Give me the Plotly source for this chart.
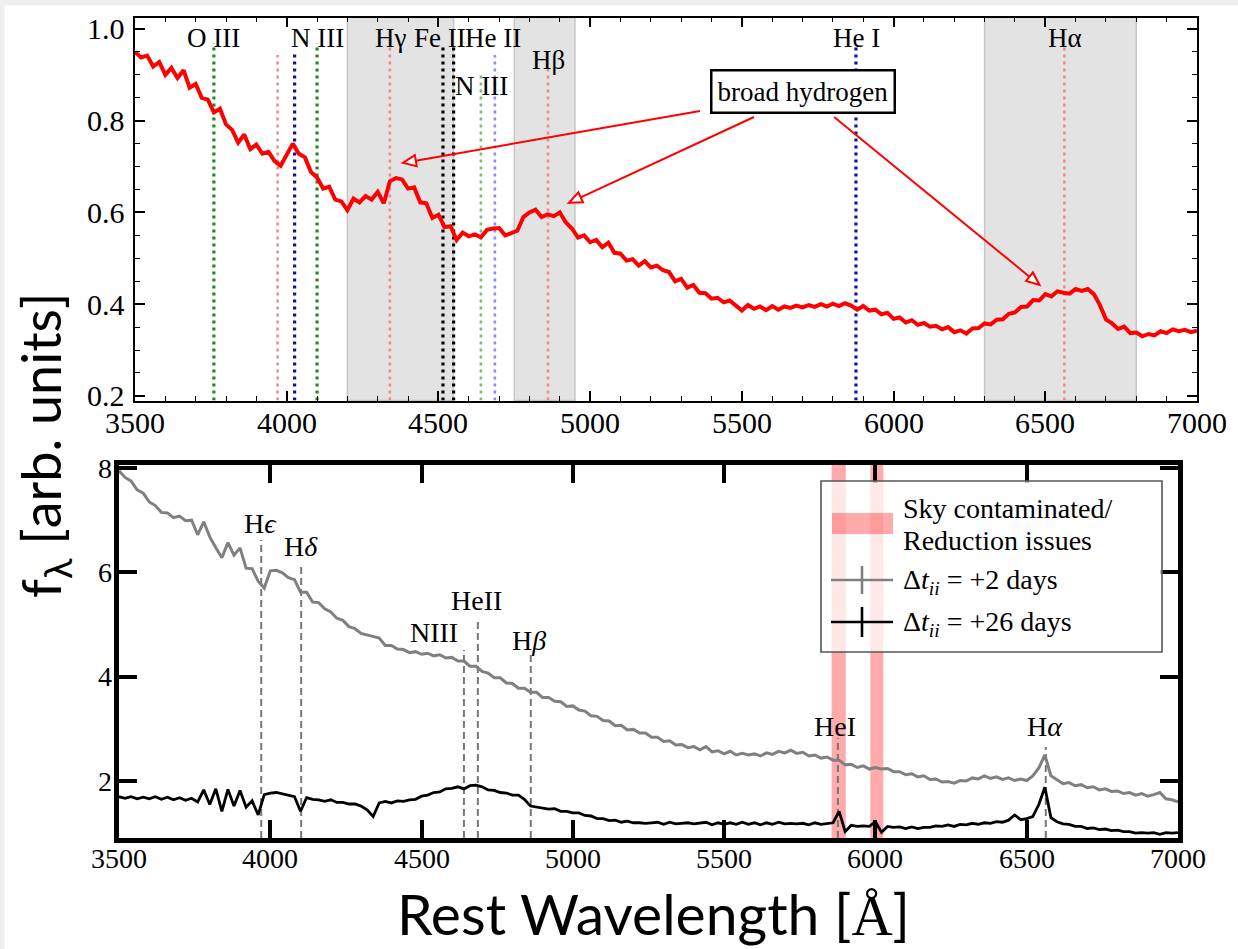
import plotly.graph_objects as go

W, H = 1238, 949

# ---------------- data ----------------
# common wavelength grid [Angstrom], 20 A sampling
wavelength = list(range(3500, 7001, 20))

# upper panel: normalised spectrum (arb. units)
flux_upper = [
    0.950, 0.938, 0.942, 0.918, 0.928, 0.900, 0.915, 0.893, 0.910, 0.872,
    0.880, 0.850, 0.846, 0.818, 0.826, 0.792, 0.780, 0.752, 0.770, 0.738,
    0.748, 0.728, 0.732, 0.712, 0.702, 0.726, 0.750, 0.728, 0.720, 0.688,
    0.676, 0.652, 0.656, 0.628, 0.624, 0.605, 0.630, 0.622, 0.636, 0.628,
    0.645, 0.620, 0.668, 0.675, 0.672, 0.652, 0.655, 0.622, 0.620, 0.588,
    0.595, 0.568, 0.570, 0.540, 0.556, 0.548, 0.552, 0.546, 0.562, 0.565,
    0.566, 0.550, 0.556, 0.560, 0.590, 0.600, 0.606, 0.590, 0.596, 0.592,
    0.600, 0.578, 0.565, 0.545, 0.550, 0.535, 0.540, 0.524, 0.534, 0.512,
    0.510, 0.495, 0.498, 0.484, 0.494, 0.480, 0.484, 0.474, 0.470, 0.450,
    0.455, 0.436, 0.442, 0.425, 0.424, 0.412, 0.414, 0.404, 0.408, 0.396,
    0.386, 0.398, 0.390, 0.395, 0.387, 0.396, 0.388, 0.395, 0.392, 0.397,
    0.393, 0.398, 0.394, 0.400, 0.395, 0.401, 0.396, 0.402, 0.397, 0.388,
    0.396, 0.386, 0.388, 0.378, 0.381, 0.368, 0.371, 0.360, 0.365, 0.355,
    0.359, 0.351, 0.353, 0.345, 0.350, 0.339, 0.343, 0.336, 0.347, 0.348,
    0.358, 0.356, 0.366, 0.367, 0.379, 0.382, 0.394, 0.395, 0.409, 0.408,
    0.422, 0.417, 0.428, 0.425, 0.423, 0.433, 0.429, 0.433, 0.422, 0.398,
    0.367, 0.358, 0.346, 0.351, 0.337, 0.338, 0.330, 0.335, 0.332, 0.341,
    0.337, 0.345, 0.341, 0.344, 0.339, 0.342,
]

# lower panel: +2 days spectrum
flux_plus2 = [
    7.95, 7.82, 7.75, 7.58, 7.52, 7.35, 7.28, 7.15, 7.14, 7.05,
    7.08, 6.99, 7.00, 6.72, 6.97, 6.68, 6.47, 6.28, 6.57, 6.33,
    6.47, 6.08, 6.07, 5.83, 5.70, 6.03, 6.04, 5.99, 5.90, 5.86,
    5.62, 5.62, 5.43, 5.42, 5.30, 5.24, 5.12, 5.08, 4.96, 4.92,
    4.83, 4.80, 4.77, 4.74, 4.60, 4.60, 4.53, 4.52, 4.46, 4.48,
    4.43, 4.45, 4.40, 4.42, 4.36, 4.37, 4.30, 4.30, 4.20, 4.20,
    4.10, 4.07, 3.98, 3.98, 3.88, 3.87, 3.78, 3.78, 3.70, 3.70,
    3.60, 3.60, 3.53, 3.52, 3.43, 3.44, 3.36, 3.34, 3.25, 3.24,
    3.16, 3.15, 3.06, 3.07, 2.98, 2.99, 2.92, 2.92, 2.84, 2.84,
    2.76, 2.77, 2.69, 2.70, 2.64, 2.66, 2.60, 2.66, 2.56, 2.58,
    2.52, 2.57, 2.50, 2.53, 2.50, 2.52, 2.48, 2.54, 2.51, 2.57,
    2.54, 2.59, 2.53, 2.55, 2.48, 2.50, 2.44, 2.46, 2.40, 2.40,
    2.31, 2.32, 2.26, 2.29, 2.23, 2.26, 2.23, 2.24, 2.18, 2.18,
    2.12, 2.14, 2.08, 2.10, 2.03, 2.04, 1.98, 1.99, 1.96, 2.01,
    2.00, 2.06, 2.04, 2.10, 2.05, 2.08, 2.03, 2.06, 2.01, 2.04,
    2.01, 2.10, 2.25, 2.50, 2.10, 2.02, 1.95, 1.97, 1.91, 1.93,
    1.87, 1.89, 1.83, 1.85, 1.80, 1.81, 1.76, 1.78, 1.73, 1.76,
    1.71, 1.74, 1.78, 1.66, 1.64, 1.60,
]

# lower panel: +26 days spectrum
flux_plus26 = [
    1.70, 1.67, 1.70, 1.66, 1.69, 1.66, 1.70, 1.65, 1.69, 1.64,
    1.68, 1.63, 1.67, 1.60, 1.83, 1.55, 1.85, 1.42, 1.84, 1.52,
    1.82, 1.50, 1.62, 1.35, 1.74, 1.77, 1.78, 1.75, 1.72, 1.70,
    1.42, 1.68, 1.65, 1.64, 1.61, 1.64, 1.59, 1.59, 1.56, 1.56,
    1.52, 1.45, 1.32, 1.58, 1.61, 1.58, 1.62, 1.61, 1.64, 1.65,
    1.71, 1.73, 1.78, 1.79, 1.85, 1.86, 1.89, 1.85, 1.91, 1.92,
    1.89, 1.83, 1.82, 1.78, 1.77, 1.73, 1.73, 1.65, 1.52, 1.50,
    1.49, 1.46, 1.47, 1.42, 1.42, 1.39, 1.39, 1.34, 1.33, 1.28,
    1.28, 1.24, 1.25, 1.21, 1.23, 1.20, 1.20, 1.19, 1.20, 1.21,
    1.17, 1.21, 1.18, 1.19, 1.20, 1.18, 1.19, 1.21, 1.16, 1.20,
    1.17, 1.20, 1.17, 1.21, 1.17, 1.20, 1.16, 1.20, 1.17, 1.21,
    1.18, 1.19, 1.18, 1.19, 1.16, 1.20, 1.17, 1.18, 1.20, 1.42,
    1.03, 1.15, 1.13, 1.14, 1.13, 1.22, 1.02, 1.13, 1.11, 1.12,
    1.09, 1.12, 1.09, 1.11, 1.11, 1.14, 1.13, 1.16, 1.13, 1.17,
    1.16, 1.19, 1.17, 1.20, 1.19, 1.22, 1.21, 1.25, 1.35, 1.26,
    1.28, 1.32, 1.55, 1.88, 1.30, 1.22, 1.18, 1.17, 1.13, 1.13,
    1.09, 1.10, 1.07, 1.08, 1.05, 1.06, 1.03, 1.03, 1.00, 1.01,
    1.00, 1.01, 0.98, 1.01, 1.00, 1.01,
]

# tick positions and their labels
wave_ticks = [3500, 4000, 4500, 5000, 5500, 6000, 6500, 7000]
wave_tick_labels = ["3500", "4000", "4500", "5000", "5500", "6000", "6500", "7000"]
upper_yticks = [0.2, 0.4, 0.6, 0.8, 1.0]
upper_ytick_labels = ["0.2", "0.4", "0.6", "0.8", "1.0"]
lower_yticks = [2, 4, 6, 8]
lower_ytick_labels = ["2", "4", "6", "8"]

# upper panel line identifications
upper_line_names = ["O III", "H\u03b5", "He I", "N III", "H\u03b3", "Fe II a", "Fe II b",
                    "N III b", "He II", "H\u03b2", "He I b", "H\u03b1"]
upper_line_waves = [3760, 3970, 4026, 4100, 4340, 4515, 4550, 4640, 4686, 4861, 5876, 6563]
upper_shaded = [(4200, 4550), (4750, 4950), (6300, 6800)]
upper_labels = ["O III", "N III", "H\u03b3", "Fe II", "He II", "N III", "H\u03b2", "He I", "H\u03b1"]
upper_label_waves = [3760, 4100, 4343, 4505, 4680, 4642, 4864, 5877, 6565]

# lower panel line identifications
lower_labels = ["H<i>\u03f5</i>", "H<i>\u03b4</i>", "NIII", "HeII", "H<i>\u03b2</i>", "HeI", "H<i>\u03b1</i>"]
lower_line_waves = [3970, 4102, 4640, 4686, 4861, 5876, 6563]
lower_label_waves = [3966, 4103, 4628, 4680, 4856, 5868, 6559]
sky_bands = [(5855, 5902), (5983, 6026)]

# ---------------- geometry / style ----------------
TOP_XPX = (135, 1197)
TOP_YPX = (17.5, 400.5)
BOT_XPX = (119, 1178)
BOT_YPX = (465, 838)
TOP_YRANGE = [0.19, 1.025]
BOT_YRANGE = [0.908, 8.058]
SERIF = "Liberation Serif"
SANS = "Lato"


def pxx(x):
    return x / W


def pxy(y):
    return 1 - y / H


fig = go.Figure()
fig.add_trace(go.Scatter(x=wavelength, y=flux_upper, xaxis="x", yaxis="y", mode="lines",
                         line=dict(color="#ff0000", width=4), showlegend=False, hoverinfo="skip"))
fig.add_trace(go.Scatter(x=wavelength, y=flux_plus2, xaxis="x2", yaxis="y2", mode="lines",
                         line=dict(color="#808080", width=3), showlegend=False, hoverinfo="skip"))
fig.add_trace(go.Scatter(x=wavelength, y=flux_plus26, xaxis="x2", yaxis="y2", mode="lines",
                         line=dict(color="#000000", width=2.8), showlegend=False, hoverinfo="skip"))

shapes = []
annotations = []

# page frame: light grey strips on top and left edge
shapes.append(dict(type="rect", xref="paper", yref="paper", x0=0, x1=1, y0=pxy(5.5), y1=1,
                   fillcolor="#efefef", line=dict(width=0), layer="below"))
shapes.append(dict(type="rect", xref="paper", yref="paper", x0=0, x1=pxx(4.5), y0=0, y1=1,
                   fillcolor="#efefef", line=dict(width=0), layer="below"))

# tick labels (serif), placed next to the axes
for v, lab in zip(wave_ticks, wave_tick_labels):
    annotations.append(dict(x=v, y=pxy(422), xref="x", yref="paper", text=lab, showarrow=False,
                            font=dict(family=SERIF, size=30, color="black"),
                            xanchor="center", yanchor="middle"))
    annotations.append(dict(x=v, y=pxy(858), xref="x2", yref="paper", text=lab, showarrow=False,
                            font=dict(family=SERIF, size=28, color="black"),
                            xanchor="center", yanchor="middle"))
for v, lab in zip(upper_yticks, upper_ytick_labels):
    annotations.append(dict(x=pxx(127), y=v, xref="paper", yref="y", text=lab, showarrow=False,
                            font=dict(family=SERIF, size=30, color="black"),
                            xanchor="right", yanchor="middle"))
for v, lab in zip(lower_yticks, lower_ytick_labels):
    annotations.append(dict(x=pxx(114), y=v, xref="paper", yref="y2", text=lab, showarrow=False,
                            font=dict(family=SERIF, size=28, color="black"),
                            xanchor="right", yanchor="middle"))

# ---- upper panel ----
for a, b in upper_shaded:
    shapes.append(dict(type="rect", xref="x", yref="y domain", x0=a, x1=b, y0=0, y1=1,
                       fillcolor="#e3e3e3", line=dict(color="#c6c6c6", width=1.5), layer="below"))

upper_line_style = {
    "O III": ("#1e8c1e", 3.2, 0.969),
    "H\u03b5": ("#f28a8a", 2.6, 0.943),
    "He I": ("#12129a", 3.2, 0.948),
    "N III": ("#1e8c1e", 3.2, 0.969),
    "H\u03b3": ("#f28a8a", 2.6, 0.965),
    "Fe II a": ("#000000", 3.2, 0.965),
    "Fe II b": ("#000000", 3.2, 0.965),
    "N III b": ("#78c078", 2.6, 0.900),
    "He II": ("#8c8cff", 2.6, 0.943),
    "H\u03b2": ("#f28a8a", 2.6, 0.920),
    "He I b": ("#12129a", 3.2, 0.965),
    "H\u03b1": ("#f28a8a", 2.6, 0.965),
}
for name, wl in zip(upper_line_names, upper_line_waves):
    col, lw, top = upper_line_style[name]
    shapes.append(dict(type="line", xref="x", yref="y", x0=wl, x1=wl, y0=TOP_YRANGE[0], y1=top,
                       line=dict(color=col, width=lw, dash="3px,4px"), layer="below"))

upper_label_y = [0.980, 0.980, 0.980, 0.980, 0.980, 0.876, 0.932, 0.980, 0.980]
for txt, wl, yv in zip(upper_labels, upper_label_waves, upper_label_y):
    annotations.append(dict(x=wl, y=yv, xref="x", yref="y", text=txt, showarrow=False,
                            font=dict(family=SERIF, size=27, color="black"),
                            xanchor="center", yanchor="middle"))

# "broad hydrogen" call-out with three open-headed arrows
annotations.append(dict(x=5702, y=0.863, xref="x", yref="y", text="broad hydrogen", showarrow=False,
                        font=dict(family=SERIF, size=27, color="black"),
                        bgcolor="white", bordercolor="black", borderwidth=2.5, borderpad=5,
                        xanchor="center", yanchor="middle"))
arrow_tails = [(5362, 0.821), (5540, 0.808), (5804, 0.808)]
arrow_tips = [(4383, 0.708), (4930, 0.621), (6481, 0.442)]
x_px_per_unit = (TOP_XPX[1] - TOP_XPX[0]) / 3500.0
y_px_per_unit = (TOP_YPX[1] - TOP_YPX[0]) / (TOP_YRANGE[1] - TOP_YRANGE[0])
for (tx, ty), (hx, hy) in zip(arrow_tails, arrow_tips):
    shapes.append(dict(type="line", xref="x", yref="y", x0=tx, y0=ty, x1=hx, y1=hy,
                       line=dict(color="#ff0000", width=2), layer="above"))
    dx = (hx - tx) * x_px_per_unit
    dy = (hy - ty) * y_px_per_unit
    L = (dx * dx + dy * dy) ** 0.5
    ux, uy = dx / L, dy / L
    nx, ny = -uy, ux
    bx, by = -13 * ux, -13 * uy
    path = "M0,0 L{:.1f},{:.1f} L{:.1f},{:.1f} Z".format(bx + 5.5 * nx, by + 5.5 * ny,
                                                       bx - 5.5 * nx, by - 5.5 * ny)
    shapes.append(dict(type="path", xref="x", yref="y", xsizemode="pixel", ysizemode="pixel",
                       xanchor=hx, yanchor=hy, path=path, fillcolor="white",
                       line=dict(color="#ff0000", width=2), layer="above"))

# ---- lower panel ----
for a, b in sky_bands:
    shapes.append(dict(type="rect", xref="x2", yref="y2 domain", x0=a, x1=b, y0=0, y1=1,
                       fillcolor="rgba(255,0,0,0.33)", line=dict(width=0), layer="below"))

lower_line_tops = [6.62, 6.14, 4.51, 5.12, 4.42, 2.82, 2.65]
for wl, top in zip(lower_line_waves, lower_line_tops):
    shapes.append(dict(type="line", xref="x2", yref="y2", x0=wl, x1=wl, y0=BOT_YRANGE[0], y1=top,
                       line=dict(color="#777777", width=2, dash="7px,4px"), layer="below"))

lower_label_y = [6.93, 6.49, 4.84, 5.47, 4.70, 3.04, 3.04]
lower_label_anchor = ["center", "center", "right", "center", "center", "center", "center"]
for txt, wl, yv, anc in zip(lower_labels, lower_label_waves, lower_label_y, lower_label_anchor):
    annotations.append(dict(x=wl, y=yv, xref="x2", yref="y2", text=txt, showarrow=False,
                            font=dict(family=SERIF, size=28, color="black"),
                            xanchor=anc, yanchor="middle"))

# legend box drawn by hand
shapes.append(dict(type="rect", xref="paper", yref="paper", x0=pxx(821), x1=pxx(1162),
                   y0=pxy(652), y1=pxy(481), fillcolor="rgba(255,255,255,0.72)",
                   line=dict(color="#555555", width=1.6), layer="above"))
shapes.append(dict(type="rect", xref="paper", yref="paper", x0=pxx(832), x1=pxx(893),
                   y0=pxy(534), y1=pxy(513), fillcolor="rgba(255,0,0,0.33)",
                   line=dict(width=0), layer="above"))
for yc, col, half in [(580, "#808080", 14), (622, "#000000", 15)]:
    shapes.append(dict(type="line", xref="paper", yref="paper", x0=pxx(831), x1=pxx(893),
                       y0=pxy(yc), y1=pxy(yc), line=dict(color=col, width=2.6), layer="above"))
    shapes.append(dict(type="line", xref="paper", yref="paper", x0=pxx(862), x1=pxx(862),
                       y0=pxy(yc - half), y1=pxy(yc + half), line=dict(color=col, width=2.6),
                       layer="above"))
legend_text = [
    ("Sky contaminated/", 508),
    ("Reduction issues", 540),
    ("\u0394<i>t</i><sub><i>ii</i></sub> = +2 days", 581),
    ("\u0394<i>t</i><sub><i>ii</i></sub> = +26 days", 623),
]
for txt, yc in legend_text:
    annotations.append(dict(x=pxx(901), y=pxy(yc), xref="paper", yref="paper", text=txt,
                            showarrow=False, font=dict(family=SERIF, size=28, color="black"),
                            xanchor="left", yanchor="middle"))

# shared axis titles
annotations.append(dict(x=pxx(653), y=pxy(913), xref="paper", yref="paper",
                        text="Rest Wavelength [<span style='font-family:Liberation Serif'>\u00c5</span>]",
                        showarrow=False, font=dict(family=SANS, size=57, color="black"),
                        xanchor="center", yanchor="middle"))
annotations.append(dict(x=pxx(44), y=pxy(446), xref="paper", yref="paper",
                        text="f<sub>\u03bb</sub> [arb. units]", textangle=-90,
                        showarrow=False, font=dict(family=SANS, size=54, color="black"),
                        xanchor="center", yanchor="middle"))

top_axis = dict(showline=True, linecolor="black", linewidth=1.8, mirror="allticks",
                ticks="inside", tickcolor="black", showgrid=False, zeroline=False,
                showticklabels=False)
bot_axis = dict(showline=True, linecolor="black", linewidth=4.5, mirror="allticks",
                ticks="inside", tickcolor="black", ticklen=18, tickwidth=3.5,
                showgrid=False, zeroline=False, showticklabels=False)

fig.update_layout(
    width=W, height=H, margin=dict(l=0, r=0, t=0, b=0),
    paper_bgcolor="white", plot_bgcolor="white", template="none", showlegend=False,
    font=dict(family=SERIF, color="black"),
    xaxis=dict(**top_axis, domain=[pxx(TOP_XPX[0]), pxx(TOP_XPX[1])], range=[3500, 7000],
               tickvals=wave_ticks, ticklen=10, tickwidth=1.6, anchor="y",
               minor=dict(ticks="inside", dtick=100, ticklen=5, tickwidth=1.3, tickcolor="black")),
    yaxis=dict(**top_axis, domain=[pxy(TOP_YPX[1]), pxy(TOP_YPX[0])], range=TOP_YRANGE,
               tickvals=upper_yticks, ticklen=10, tickwidth=1.6, anchor="x",
               minor=dict(ticks="inside", dtick=0.05, tick0=0, ticklen=5, tickwidth=1.3,
                          tickcolor="black")),
    xaxis2=dict(**bot_axis, domain=[pxx(BOT_XPX[0]), pxx(BOT_XPX[1])], range=[3500, 7000],
                tickvals=wave_ticks, anchor="y2"),
    yaxis2=dict(**bot_axis, domain=[pxy(BOT_YPX[1]), pxy(BOT_YPX[0])], range=BOT_YRANGE,
                tickvals=lower_yticks, anchor="x2"),
    shapes=shapes,
    annotations=annotations,
)

fig.write_html("out.html")
